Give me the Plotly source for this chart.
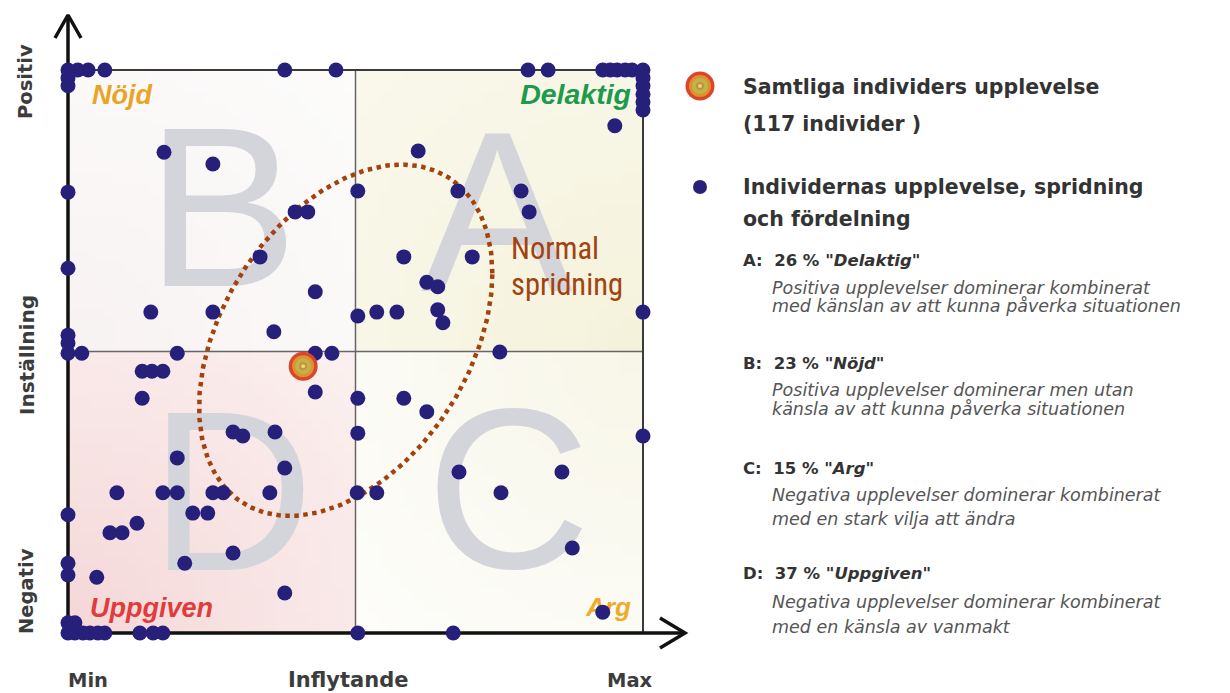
import numpy as np
import plotly.graph_objects as go

# ---------------- DATA (scale 0-100: x = Inflytande Min->Max, y = Inställning Negativ->Positiv)
edge_top_x = [0, 1.7, 3.5, 6.4, 37.7, 46.6, 80.0, 83.5, 93.0, 94.3, 95.5, 96.9, 98.1, 100]
edge_right_y = [98.6, 97.2, 95.7, 94.3, 92.9, 57.0, 35.0]
edge_left_y = [98.6, 97.2, 78.3, 64.8, 52.9, 51.5, 49.7, 21.0, 12.4, 10.3, 1.8, 0]
edge_bottom_x = [1.2, 2.6, 3.8, 5.2, 6.4, 12.5, 14.8, 16.5, 50.4, 67.0]

inner_x = [2.4, 1.2, 16.7, 25.2, 39.5, 41.7, 33.4, 43.0, 14.4, 25.2, 35.8, 95.1, 60.9, 50.4,
           67.8, 78.8, 80.2, 58.4, 70.3, 62.4, 64.3, 50.4, 53.7, 57.2, 64.3, 65.2, 75.1,
           19.0, 12.9, 14.6, 16.5, 12.9, 43.0, 45.9, 43.0, 28.7, 30.4, 36.0, 19.0, 37.7,
           8.5, 16.5, 19.0, 25.2, 27.0, 35.1, 21.7, 24.3, 12.0, 7.3, 9.4, 28.7, 20.3, 5.0,
           37.7, 50.4, 58.4, 62.4, 50.4, 68.0, 85.9, 75.3, 50.3, 53.7, 87.7, 93.0]
inner_y = [49.7, 1.8, 85.4, 83.3, 74.8, 74.8, 66.8, 60.6, 57.0, 57.0, 53.5, 90.1, 85.6, 78.5,
           78.5, 78.5, 74.8, 66.8, 66.8, 62.3, 61.5, 56.3, 57.0, 57.0, 57.4, 55.1, 49.9,
           49.7, 46.5, 46.5, 46.5, 41.7, 49.7, 49.7, 42.8, 35.7, 35.0, 35.7, 31.1, 29.3,
           24.9, 24.9, 24.9, 24.9, 24.9, 24.9, 21.3, 21.3, 19.5, 17.8, 17.8, 14.2, 12.4, 9.9,
           7.1, 41.7, 41.7, 39.3, 35.5, 28.6, 28.6, 24.9, 24.9, 24.9, 15.1, 3.7]

avg_x = [40.9]
avg_y = [47.4]

quad_letters = ["B", "A", "D", "C"]
quad_letter_x = [26.8, 74.6, 28.5, 76.6]
quad_letter_y = [71.8, 70.9, 21.4, 21.6]

quad_names = ["Nöjd", "Delaktig", "Uppgiven", "Arg"]
quad_name_colors = ["#eaa425", "#1e9a4c", "#e03c3c", "#f0aa2a"]

legend_shares = ["26 %", "23 %", "15 %", "37 %"]
legend_keys = ["A", "B", "C", "D"]
legend_names = ["Delaktig", "Nöjd", "Arg", "Uppgiven"]
legend_desc = [
    ["Positiva upplevelser dominerar kombinerat", "med känslan av att kunna påverka situationen"],
    ["Positiva upplevelser dominerar men utan", "känsla av att kunna påverka situationen"],
    ["Negativa upplevelser dominerar kombinerat", "med en stark vilja att ändra"],
    ["Negativa upplevelser dominerar kombinerat", "med en känsla av vanmakt"],
]

# ---------------- assemble points
all_x = list(edge_top_x) + [100] * len(edge_right_y) + [0] * len(edge_left_y) + list(edge_bottom_x) + inner_x
all_y = [100] * len(edge_top_x) + list(edge_right_y) + list(edge_left_y) + [0] * len(edge_bottom_x) + inner_y

W, H = 1230, 693
PX0, PX1 = 68, 643     # pixel of x=0 and x=100
PY0, PY1 = 633, 70     # pixel of y=0 and y=100
sx = (PX1 - PX0) / 100.0
sy = (PY0 - PY1) / 100.0
xr = [-PX0 / sx, (W - PX0) / sx]
yr = [-(H - PY0) / sy, PY0 / sy]


def dx(px):
    return (px - PX0) / sx


def dy(py):
    return (PY0 - py) / sy


fig = go.Figure()


def quad_bg(x0, x1, y0, y1, cx, cy, c_near, c_far):
    n = 25
    xe = np.linspace(x0, x1, n + 1)
    ye = np.linspace(y0, y1, n + 1)
    xc = (xe[:-1] + xe[1:]) / 2
    yc = (ye[:-1] + ye[1:]) / 2
    X, Y = np.meshgrid(xc, yc)
    d = np.clip(np.hypot(X - cx, Y - cy) / (50 * np.sqrt(2)), 0, 1)
    return go.Heatmap(x=xe, y=ye, z=d, colorscale=[[0, c_near], [1, c_far]], zmin=0, zmax=1,
                      showscale=False, hoverinfo="skip")

fig.add_trace(quad_bg(0, 50, 50, 100, 0, 50, "#f8f2f2", "#fcfcfb"))
fig.add_trace(quad_bg(50, 100, 50, 100, 100, 50, "#f5f2db", "#f9f8ec"))
fig.add_trace(quad_bg(0, 50, 0, 50, 0, 0, "#f5d7d8", "#fbf1f0"))
fig.add_trace(quad_bg(50, 100, 0, 50, 100, 50, "#f8f6e7", "#fdfdfb"))

# big letters
fig.add_trace(go.Scatter(x=quad_letter_x, y=quad_letter_y, mode="text", text=quad_letters,
                         textfont=dict(family="Liberation Sans, Arial", size=228, color="#d4d4db"),
                         textposition="middle center", hoverinfo="skip", showlegend=False))

# centre lines
fig.add_trace(go.Scatter(x=[50, 50, None, 0, 100], y=[0, 100, None, 50, 50], mode="lines",
                         line=dict(color="#666666", width=1.5), hoverinfo="skip", showlegend=False))
# top / right border
fig.add_trace(go.Scatter(x=[0, 100, 100], y=[100, 100, 0], mode="lines",
                         line=dict(color="#3a3a3a", width=2), hoverinfo="skip", showlegend=False))
# axes with arrows
fig.add_trace(go.Scatter(x=[0, 0, None, dx(55), 0, dx(81), None, 0, dx(685), None, dx(660), dx(685), dx(660)],
                         y=[0, dy(15), None, dy(38), dy(15), dy(38), None, 0, 0, None, dy(618), 0, dy(648)],
                         mode="lines", line=dict(color="#111111", width=3.5), hoverinfo="skip", showlegend=False))

# quadrant names
fig.add_trace(go.Scatter(x=[dx(92), dx(631), dx(90), dx(631)], y=[dy(97), dy(97), dy(610), dy(609)],
                         mode="text", text=[f"<b><i>{n}</i></b>" for n in quad_names],
                         textposition=["middle right", "middle left", "middle right", "middle left"],
                         textfont=dict(family="Liberation Sans, Arial", size=[27, 28.5, 27, 26], color=quad_name_colors),
                         hoverinfo="skip", showlegend=False))

# ellipse ("Normal spridning")
ell_c = (48.3, 52.0)
ell_h = (25.5, 31.2)
ell_rho = 0.381
t = np.linspace(0, 2 * np.pi, 300)
delta = np.arccos(ell_rho)
fig.add_trace(go.Scatter(x=ell_c[0] + ell_h[0] * np.cos(t), y=ell_c[1] + ell_h[1] * np.cos(t - delta),
                         mode="lines", line=dict(color="#a3420f", width=4.5, dash="dot"),
                         hoverinfo="skip", showlegend=False))

# individual dots
fig.add_trace(go.Scatter(x=all_x, y=all_y, mode="markers",
                         marker=dict(size=15, color="#27207b", line=dict(width=0)),
                         name="Individer", showlegend=False))

# average marker (and legend copy)
leg_x = [dx(700)]
leg_y = [dy(86)]
for size, col in [(29, "#d9462b"), (22, "#e0902f"), (16, "#bdb547"), (8, "#c9903a"), (4, "#e3d57a")]:
    fig.add_trace(go.Scatter(x=avg_x + leg_x, y=avg_y + leg_y, mode="markers",
                             marker=dict(size=size, color=col, line=dict(width=0)),
                             hoverinfo="skip", showlegend=False))
fig.add_trace(go.Scatter(x=[dx(700)], y=[dy(187)], mode="markers",
                         marker=dict(size=14, color="#27207b"), hoverinfo="skip", showlegend=False))

ann = []


def txt(px, py, s, size, color, family="DejaVu Sans", xanchor="left", angle=0):
    ann.append(dict(x=px / W, y=1 - py / H, xref="paper", yref="paper", text=s, showarrow=False,
                    xanchor=xanchor, yanchor="middle", textangle=angle,
                    font=dict(size=size, color=color, family=family)))

# axis labels
txt(26, 82, "<b>Positiv</b>", 19.5, "#3c3c3c", xanchor="center", angle=-90)
txt(27, 355, "<b>Inställning</b>", 20, "#3c3c3c", xanchor="center", angle=-90)
txt(26, 591, "<b>Negativ</b>", 19.5, "#3c3c3c", xanchor="center", angle=-90)
txt(88, 680, "<b>Min</b>", 19.5, "#3c3c3c", xanchor="center")
txt(348, 680, "<b>Inflytande</b>", 21, "#3c3c3c", xanchor="center")
txt(630, 680, "<b>Max</b>", 19.5, "#3c3c3c", xanchor="center")

# normal spridning
nfam = "Liberation Sans Narrow, Roboto Condensed, Arial Narrow, Roboto"
txt(509, 249, "Normal", 30.5, "#a3420f", family=nfam)
txt(509, 285, "spridning", 30.5, "#a3420f", family=nfam)

# legend text
txt(741, 87, "<b>Samtliga individers upplevelse</b>", 20.5, "#333333")
txt(741, 124, "<b>(117 individer )</b>", 20.5, "#333333")
txt(741, 187, "<b>Individernas upplevelse, spridning</b>", 20.5, "#333333")
txt(741, 219, "<b>och fördelning</b>", 20.5, "#333333")

head_y = [260, 363, 468, 573]
desc_y = [(288, 306), (390, 409), (495, 519), (602, 627)]
for k, s, n, hy, (d1, d2), dl in zip(legend_keys, legend_shares, legend_names, head_y, desc_y, legend_desc):
    txt(741, hy, f"<b>{k}:\u00a0\u00a0{s} <i>\"{n}\"</i></b>", 16.5, "#333333")
    txt(770, d1, f"<i>{dl[0]}</i>", 17.5, "#555555")
    txt(770, d2, f"<i>{dl[1]}</i>", 17.5, "#555555")

fig.update_layout(
    width=W, height=H, margin=dict(l=0, r=0, t=0, b=0),
    paper_bgcolor="white", plot_bgcolor="white", showlegend=False,
    xaxis=dict(range=xr, visible=False, fixedrange=True),
    yaxis=dict(range=yr, visible=False, fixedrange=True),
    annotations=ann,
)

fig.write_html("out.html", config={"displayModeBar": False},
               post_script="document.body.style.margin='0';document.body.style.overflow='hidden';")
